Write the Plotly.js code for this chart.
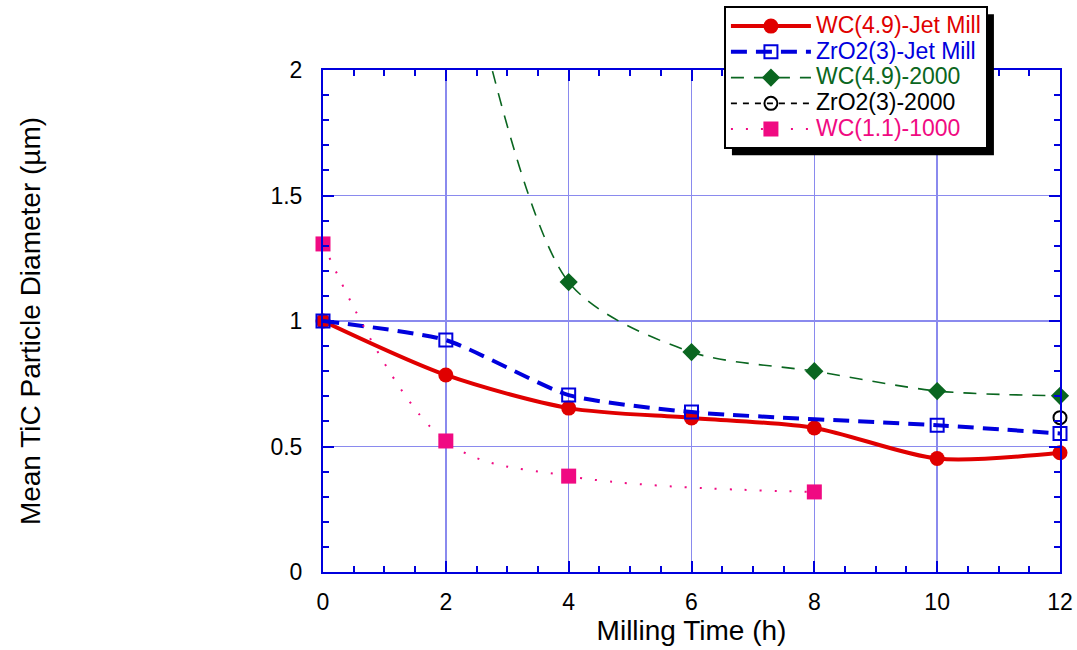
<!DOCTYPE html>
<html>
<head>
<meta charset="utf-8">
<script src="https://cdn.plot.ly/plotly-3.0.1.min.js"></script>
<style>body{margin:0;padding:0;background:#fff;}</style>
</head>
<body>
<div id="chart" style="width:1077px;height:650px;"></div>
<script>
// Data
const wcJetX = [0, 2, 4, 6, 8, 10, 12];
const wcJetY = [1.0, 0.785, 0.653, 0.614, 0.574, 0.452, 0.475];

const zrJetX = [0, 2, 4, 6, 10, 12];
const zrJetY = [1.0, 0.924, 0.705, 0.637, 0.585, 0.552];

const wc2000X = [2, 4, 6, 8, 10, 12];
const wc2000Y = [2.8, 1.155, 0.876, 0.80, 0.721, 0.702];

const zr2000X = [12];
const zr2000Y = [0.615];

const wc1000X = [0, 2, 4, 8];
const wc1000Y = [1.307, 0.522, 0.382, 0.319];

const names = ['WC(4.9)-Jet Mill', 'ZrO2(3)-Jet Mill', 'WC(4.9)-2000', 'ZrO2(3)-2000', 'WC(1.1)-1000'];
const colors = ['#e00000', '#0000dd', '#0a6620', '#000000', '#f00a82'];

function nm(i){ return '<span style="color:' + colors[i] + ';font-size:23px">' + names[i] + '</span>'; }

const traces = [
  {x: wcJetX, y: wcJetY, name: nm(0), mode: 'lines+markers', cliponaxis: false,
   line: {color: colors[0], width: 4, shape: 'spline', smoothing: 0.8},
   marker: {symbol: 'circle', size: 15, color: colors[0]}},
  {x: zrJetX, y: zrJetY, name: nm(1), mode: 'lines+markers', cliponaxis: false,
   line: {color: colors[1], width: 4, dash: '16px,9px', shape: 'spline', smoothing: 0.6},
   marker: {symbol: 'square-open', size: 13, color: colors[1], line: {width: 2, color: colors[1]}}},
  {x: wc2000X, y: wc2000Y, name: nm(2), mode: 'lines+markers', cliponaxis: false,
   line: {color: colors[2], width: 1.6, dash: '13px,10px', shape: 'spline', smoothing: 0.8},
   marker: {symbol: 'diamond', size: 14, color: colors[2]}},
  {x: zr2000X, y: zr2000Y, name: nm(3), mode: 'lines+markers', cliponaxis: false,
   line: {color: colors[3], width: 1.6, dash: '6px,6px'},
   marker: {symbol: 'circle-open', size: 13, color: colors[3], line: {width: 2, color: colors[3]}}},
  {x: wc1000X, y: wc1000Y, name: nm(4), mode: 'lines+markers', cliponaxis: false,
   line: {color: colors[4], width: 2, dash: '2px,13px', shape: 'spline', smoothing: 1},
   marker: {symbol: 'square', size: 15, color: colors[4]}}
];

const axisBlue = '#0000dd';
const gridBlue = '#8a8aee';
const font = 'Liberation Sans, Arial, sans-serif';

const layout = {
  width: 1077, height: 650, autosize: false,
  margin: {l: 323, r: 17, t: 70, b: 78, autoexpand: false},
  paper_bgcolor: '#ffffff', plot_bgcolor: '#ffffff',
  font: {family: font, size: 23, color: '#000'},
  showlegend: true,
  legend: {
    x: 0.544, y: 1.127, xanchor: 'left', yanchor: 'top',
    bgcolor: '#ffffff', bordercolor: '#000000', borderwidth: 2,
    font: {family: font, size: 17.5}, itemwidth: 80,
    tracegroupgap: 0, traceorder: 'normal'
  },
  xaxis: {
    range: [0, 12], dtick: 2, tick0: 0,
    showline: true, linecolor: axisBlue, linewidth: 2, mirror: 'allticks',
    ticks: 'inside', ticklen: 11, tickwidth: 2, tickcolor: axisBlue,
    showgrid: true, gridcolor: gridBlue, gridwidth: 1.5,
    zeroline: false, automargin: false, ticklabelstandoff: 8,
    minor: {dtick: 0.5, ticks: 'inside', ticklen: 6, tickwidth: 2, tickcolor: axisBlue, showgrid: false},
    tickfont: {family: font, size: 23, color: '#000'},
    title: {text: 'Milling Time (h)', font: {family: font, size: 28, color: '#000'}, standoff: 2},
    fixedrange: true
  },
  yaxis: {
    range: [0, 2], dtick: 0.5, tick0: 0,
    showline: true, linecolor: axisBlue, linewidth: 2, mirror: 'allticks',
    ticks: 'inside', ticklen: 11, tickwidth: 2, tickcolor: axisBlue,
    showgrid: true, gridcolor: gridBlue, gridwidth: 1.5,
    zeroline: false, automargin: false, ticklabelstandoff: 14,
    minor: {dtick: 0.1, ticks: 'inside', ticklen: 6, tickwidth: 2, tickcolor: axisBlue, showgrid: false},
    tickfont: {family: font, size: 23, color: '#000'},
    title: {text: 'Mean TiC Particle Diameter (µm)', font: {family: font, size: 28, color: '#000'}, standoff: 222},
    fixedrange: true
  },
  shapes: []
};

Plotly.newPlot('chart', traces, layout, {displayModeBar: false, staticPlot: true}).then(function(gd){
  // add a drop shadow behind the legend box
  const leg = gd.querySelector('.legend');
  const bg = gd.querySelector('.legend .bg');
  if (!leg || !bg) return;
  const tr = leg.getAttribute('transform') || '';
  const m = tr.match(/translate\(\s*([-\d.]+)[ ,]+([-\d.]+)\s*\)/);
  if (!m) return;
  const lx = parseFloat(m[1]), ly = parseFloat(m[2]);
  const w = parseFloat(bg.getAttribute('width')), h = parseFloat(bg.getAttribute('height'));
  const fl = gd._fullLayout;
  const L = fl.margin.l, T = fl.margin.t, PW = fl._size.w, PH = fl._size.h;
  const off = 8;
  const x0 = lx + off, x1 = lx + w + off, y0 = ly + off, y1 = ly + h + off;
  const toX = px => (px - L) / PW;
  const toY = py => (T + PH - py) / PH;
  Plotly.relayout(gd, {shapes: [{
    type: 'rect', xref: 'paper', yref: 'paper', layer: 'above',
    x0: toX(x0), x1: toX(x1), y0: toY(y1), y1: toY(y0),
    fillcolor: '#000000', line: {width: 0}
  }]});
});
</script>
</body>
</html>
